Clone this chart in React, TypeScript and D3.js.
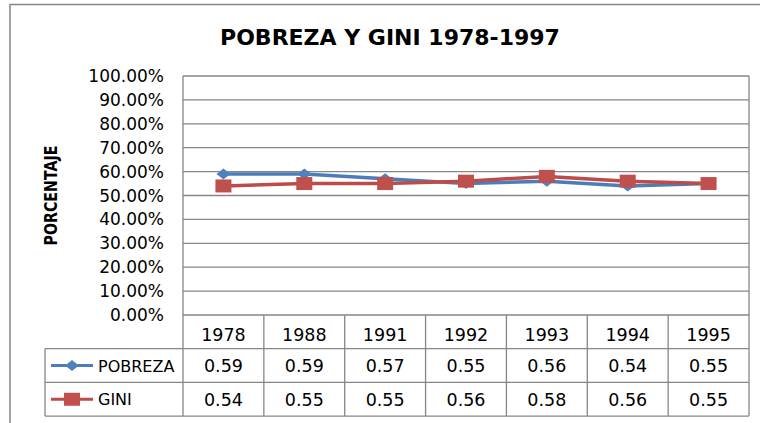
import React from "react";
import * as d3 from "d3";

// chart data
const years = ["1978", "1988", "1991", "1992", "1993", "1994", "1995"];
const pobreza = [0.59, 0.59, 0.57, 0.55, 0.56, 0.54, 0.55];
const gini = [0.54, 0.55, 0.55, 0.56, 0.58, 0.56, 0.55];
const yTicks = [0, 0.1, 0.2, 0.3, 0.4, 0.5, 0.6, 0.7, 0.8, 0.9, 1];

const W = 760;
const H = 423;
const plot = { left: 183, right: 749, top: 76, bottom: 315 };
const rowH = 33.7;
const legendLeft = 45;
const gridColor = "#868686";
const font = "'DejaVu Sans', sans-serif";

const App = () => {
  const x = d3.scaleBand<string>().domain(years).range([plot.left, plot.right]);
  const y = d3.scaleLinear().domain([0, 1]).range([plot.bottom, plot.top]);
  const cx = (i: number) => (x(years[i]) ?? 0) + x.bandwidth() / 2;
  const line = d3
    .line<number>()
    .x((_, i) => cx(i))
    .y((d) => y(d));

  const rows = [
    { name: "POBREZA", values: pobreza, color: "#4A7EBB", fill: "#4F81BD", marker: "diamond" },
    { name: "GINI", values: gini, color: "#BE4B48", fill: "#C0504D", marker: "square" },
  ];

  const marker = (kind: string, px: number, py: number, fill: string, key: any) =>
    kind === "diamond" ? (
      <path
        key={key}
        d={`M${px - 7},${py} L${px},${py - 5.5} L${px + 7},${py} L${px},${py + 5.5} Z`}
        fill={fill}
      />
    ) : (
      <rect key={key} x={px - 8} y={py - 6.5} width={16} height={13} fill={fill} />
    );

  const tableBottom = plot.bottom + rowH * 3;

  return (
    <svg
      width={W}
      height={H}
      style={{ position: "absolute", left: 0, top: 0, background: "#fff" }}
      fontFamily={font}
    >
      <rect x={10} y={4.5} width={W} height={H + 10} fill="#fff" stroke={gridColor} strokeWidth={1.5} />
      <text x={390} y={45} textAnchor="middle" fontSize={22} fontWeight="bold" fill="#000">
        POBREZA Y GINI 1978-1997
      </text>
      <text
        transform={`translate(57,${(plot.top + plot.bottom) / 2}) rotate(-90)`}
        textAnchor="middle"
        fontSize={18}
        fontWeight="bold"
        textLength={100}
        lengthAdjust="spacingAndGlyphs"
      >
        PORCENTAJE
      </text>

      {/* gridlines + y labels */}
      {yTicks.map((t) => (
        <g key={t}>
          <line x1={plot.left} x2={plot.right} y1={y(t)} y2={y(t)} stroke={gridColor} strokeWidth={1.3} />
          <text x={164} y={y(t) + 6} textAnchor="end" fontSize={17} fill="#000">
            {d3.format(".2%")(t)}
          </text>
        </g>
      ))}
      <line x1={plot.left} x2={plot.left} y1={plot.top} y2={plot.bottom} stroke={gridColor} strokeWidth={1.3} />

      {/* data table */}
      {[1, 2, 3].map((r) => (
        <line
          key={r}
          x1={legendLeft}
          x2={plot.right}
          y1={plot.bottom + rowH * r}
          y2={plot.bottom + rowH * r}
          stroke={gridColor}
          strokeWidth={1.3}
        />
      ))}
      <line x1={legendLeft} x2={legendLeft} y1={plot.bottom + rowH} y2={tableBottom} stroke={gridColor} strokeWidth={1.3} />
      {years.map((yr) => (
        <line
          key={yr}
          x1={x(yr)}
          x2={x(yr)}
          y1={plot.bottom}
          y2={tableBottom}
          stroke={gridColor}
          strokeWidth={1.3}
        />
      ))}
      <line x1={plot.right} x2={plot.right} y1={plot.top} y2={tableBottom} stroke={gridColor} strokeWidth={1.3} />
      {years.map((yr, i) => (
        <text key={yr} x={cx(i)} y={plot.bottom + 25.5} textAnchor="middle" fontSize={17.5}>
          {yr}
        </text>
      ))}
      {rows.map((s, r) => {
        const rowMid = plot.bottom + rowH * (r + 1) + rowH / 2;
        return (
          <g key={s.name}>
            <line x1={51} x2={93} y1={rowMid} y2={rowMid} stroke={s.color} strokeWidth={3} />
            {marker(s.marker, 72, rowMid, s.fill, "lg")}
            <text x={98} y={rowMid + 6} fontSize={16}>
              {s.name}
            </text>
            {s.values.map((v, i) => (
              <text key={i} x={cx(i)} y={rowMid + 6.5} textAnchor="middle" fontSize={17.5}>
                {v.toFixed(2)}
              </text>
            ))}
          </g>
        );
      })}

      {/* series */}
      {rows.map((s) => (
        <g key={s.name}>
          <path d={line(s.values) ?? ""} fill="none" stroke={s.color} strokeWidth={3.5} strokeLinejoin="round" />
          {s.values.map((v, i) => marker(s.marker, cx(i), y(v), s.fill, i))}
        </g>
      ))}
    </svg>
  );
};

export default App;
